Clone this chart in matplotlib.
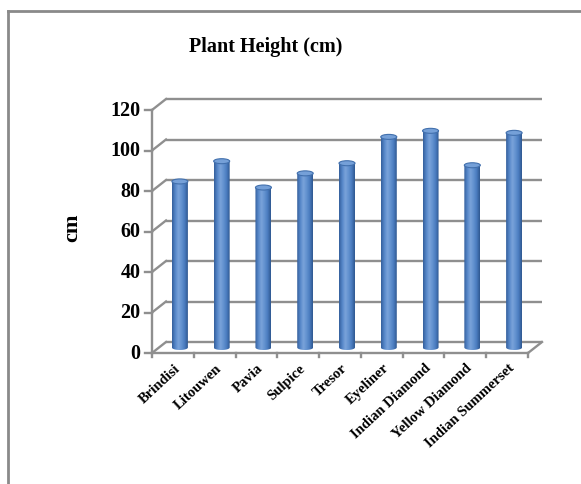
import numpy as np
import matplotlib
matplotlib.use("Agg")
import matplotlib.pyplot as plt
from matplotlib.patches import Ellipse, PathPatch
from matplotlib.path import Path
from matplotlib.colors import LinearSegmentedColormap

varieties = ["Brindisi", "Litouwen", "Pavia", "Sulpice", "Tresor", "Eyeliner",
             "Indian Diamond", "Yellow Diamond", "Indian Summerset"]
heights = [82, 92, 79, 86, 91, 104, 107, 90, 106]
y_ticks = [0, 20, 40, 60, 80, 100, 120]

W, H = 581, 485
fig = plt.figure(figsize=(W / 100, H / 100), dpi=100)
plt.rcParams["font.family"] = ["Liberation Serif", "DejaVu Serif"]

# plot area (front plane of the pseudo-3D box)
x0, x1, ytop, ybot = 152, 528, 111, 354
ax = fig.add_axes([x0 / W, 1 - ybot / H, (x1 - x0) / W, (ybot - ytop) / H])
n = len(varieties)
ax.set_xlim(0, n)
ax.set_ylim(0, 120)
ax.axis("off")

px_x = (x1 - x0) / n          # pixels per category
px_y = (ybot - ytop) / 120.0  # pixels per unit
dx = 14.0 / px_x              # depth shift in data units
dy = 11.0 / px_y

grid_c = "#8f8f8f"
lw = 1.7

# back wall gridlines and left wall diagonals
for t in y_ticks:
    ax.plot([dx, n + dx], [t + dy, t + dy], color=grid_c, lw=lw, clip_on=False,
            solid_capstyle="butt")
    ax.plot([0, dx], [t, t + dy], color=grid_c, lw=lw, clip_on=False)
    ax.plot([-0.17, 0], [t, t], color=grid_c, lw=lw, clip_on=False)

# floor front edge, right edge, front axis
ax.plot([0, n], [0, 0], color=grid_c, lw=lw, clip_on=False)
ax.plot([n, n + dx], [0, dy], color=grid_c, lw=lw, clip_on=False)
ax.plot([0, 0], [0, 120], color=grid_c, lw=lw, clip_on=False)
for i in range(n + 1):
    ax.plot([i, i], [0, -2.2], color=grid_c, lw=lw, clip_on=False)

# cylinder bars at mid depth
cmap = LinearSegmentedColormap.from_list(
    "cyl", ["#345f9c", "#5586c8", "#7aa3da", "#6392d0", "#4a7cbf", "#2f5890"])
grad = np.linspace(0, 1, 64).reshape(1, -1)
bw = 16.0 / px_x
eh = 5.0 / px_y
for i, v in enumerate(heights):
    cx = i + 0.5 + dx / 2
    base = dy / 2
    top = v + dy / 2
    left, right = cx - bw / 2, cx + bw / 2
    # body outline: rectangle with rounded bottom
    th = np.linspace(np.pi, 2 * np.pi, 30)
    bottom_pts = np.column_stack([cx + bw / 2 * np.cos(th), base + eh / 2 * np.sin(th)])
    verts = np.vstack([[left, top], bottom_pts, [right, top], [left, top]])
    path = Path(verts, closed=True)
    body = PathPatch(path, facecolor="none", edgecolor="none", transform=ax.transData)
    ax.add_patch(body)
    im = ax.imshow(grad, cmap=cmap, aspect="auto", interpolation="bilinear",
                   extent=[left, right, base - eh, top], zorder=3)
    im.set_clip_path(body)
    ax.add_patch(Ellipse((cx, top), bw, eh, facecolor="#75a0d8",
                         edgecolor="#4270ad", lw=0.8, zorder=4))

ax.set_xlim(0, n)
ax.set_ylim(0, 120)

# tick labels
for t in y_ticks:
    ax.text(-0.27, t, str(t), ha="right", va="center", fontsize=14.5,
            fontweight="bold", clip_on=False)
for i, name in enumerate(varieties):
    ax.text(i + 0.62, -6.2, name, ha="right", va="center", rotation=43,
            rotation_mode="anchor", fontsize=10.5, fontweight="bold", clip_on=False)

fig.text(72 / W, 1 - 228 / H, "cm", rotation=90, ha="center", va="center",
         fontsize=16, fontweight="bold")
fig.text(266 / W, 1 - 47 / H, "Plant Height (cm)", ha="center", va="center",
         fontsize=14.5, fontweight="bold")

# outer chart border (top and left edges)
fig.add_artist(plt.Line2D([7.5 / W, 1], [1 - 12 / H, 1 - 12 / H],
                          color="#8a8a8a", lw=2, transform=fig.transFigure))
fig.add_artist(plt.Line2D([7.5 / W, 7.5 / W], [0, 1 - 12 / H],
                          color="#8a8a8a", lw=2, transform=fig.transFigure))

fig.savefig("out.png", dpi=100)
